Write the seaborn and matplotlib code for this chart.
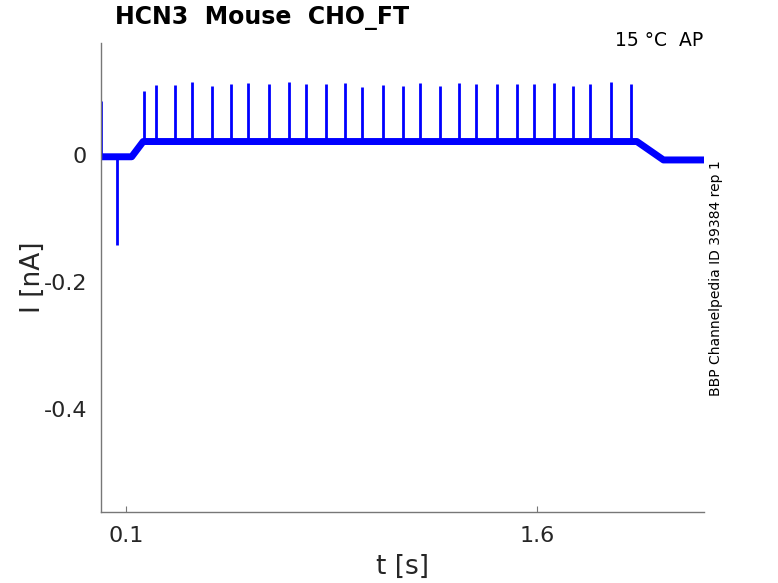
import numpy as np
import pandas as pd
import matplotlib
matplotlib.use("Agg")
import matplotlib.pyplot as plt
import seaborn as sns

# 基線(ステップ電流)の折れ点
base_t = [0.009, 0.121, 0.163, 1.965, 2.062, 2.21]
base_i = [-0.003, -0.003, 0.021, 0.021, -0.008, -0.008]

# スパイクの時刻とピーク値
spike_t = [0.166, 0.210, 0.278, 0.341, 0.414, 0.484, 0.546, 0.622, 0.694,
           0.757, 0.831, 0.900, 0.961, 1.039, 1.111, 1.173, 1.246, 1.316,
           1.377, 1.456, 1.527, 1.590, 1.662, 1.732, 1.795, 1.870, 1.944]
spike_i = [0.101, 0.110, 0.110, 0.114, 0.109, 0.112, 0.113, 0.112, 0.115,
           0.111, 0.112, 0.113, 0.107, 0.110, 0.108, 0.113, 0.108, 0.113,
           0.112, 0.112, 0.112, 0.112, 0.113, 0.109, 0.112, 0.114, 0.112]

# 最初の過渡応答
transient_t = [0.010, 0.067]
transient_i = [0.085, -0.142]

xticks = [0.1, 1.6]
yticks = [0, -0.2, -0.4]

sns.set_style("ticks")
plt.rcParams['font.family'] = ['DejaVu Sans']

fig = plt.figure(figsize=(7.78, 5.83), dpi=100)
ax = fig.add_axes([0.1298, 0.1218, 0.7751, 0.8044])

base_df = pd.DataFrame({"t": base_t, "I": base_i})
sns.lineplot(data=base_df, x="t", y="I", ax=ax, color="#0000ff", lw=5,
             sort=False, estimator=None)
ax.vlines(spike_t, base_i[2], spike_i, color="#0000ff", lw=2)
ax.vlines(transient_t, base_i[0], transient_i, color="#0000ff", lw=2)

ax.set_xlim(0.009, 2.21)
ax.set_ylim(-0.562, 0.176)
ax.set_xticks(xticks)
ax.set_xticklabels(["0.1", "1.6"])
ax.set_yticks(yticks)
ax.set_yticklabels(["0", "-0.2", "-0.4"])
ax.tick_params(direction="in", length=4, colors="#777777", labelcolor="#262626",
               labelsize=16, pad=10)
ax.tick_params(axis="y", length=0)
for s in ["top", "right"]:
    ax.spines[s].set_visible(False)
for s in ["left", "bottom"]:
    ax.spines[s].set_color("#777777")
    ax.spines[s].set_linewidth(1)

ax.set_xlabel("t [s]", fontsize=19, color="#262626", labelpad=6)
ax.set_ylabel("I [nA]", fontsize=19, color="#262626", labelpad=-2)

fig.text(115 / 778, 1 - 18 / 583, "HCN3  Mouse  CHO_FT", fontsize=17,
         fontweight="bold", ha="left", va="center", color="black")
fig.text(703 / 778, 1 - 41 / 583, "15 °C  AP", fontsize=13.5, ha="right",
         va="center", color="black")
fig.text(716 / 778, 1 - 278 / 583, "BBP Channelpedia ID 39384 rep 1", fontsize=10,
         rotation=90, ha="center", va="center", color="black")

fig.savefig("out.png", dpi=100)
